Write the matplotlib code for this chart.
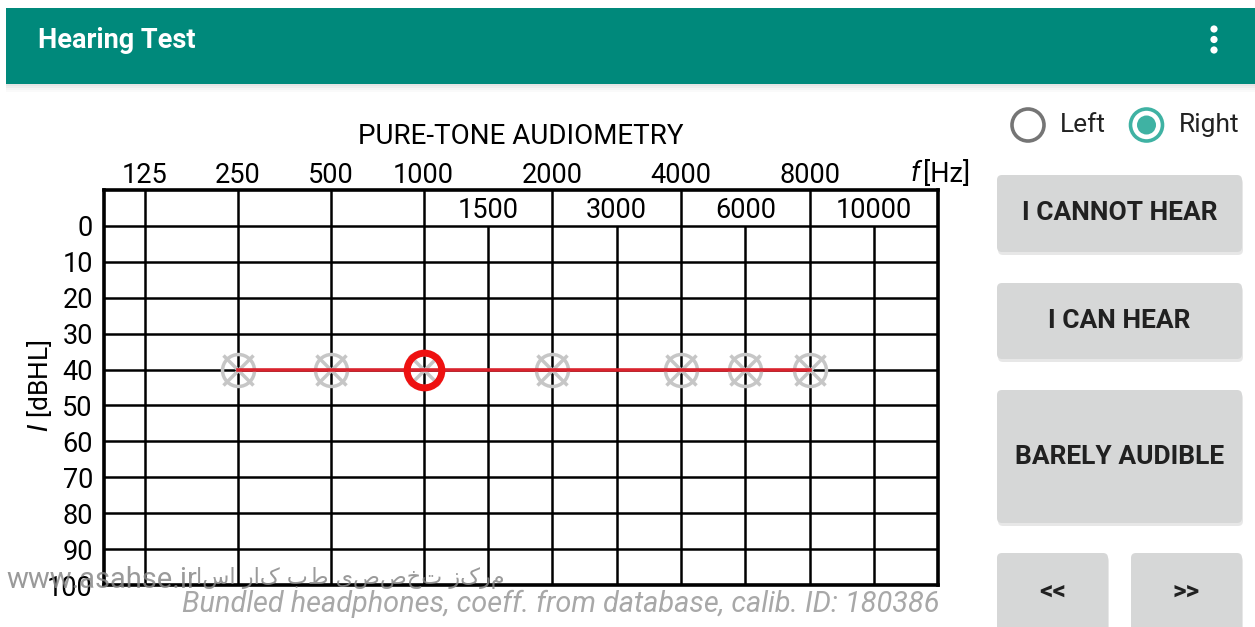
import numpy as np
import matplotlib
matplotlib.use("Agg")
import matplotlib.pyplot as plt
from matplotlib.patches import FancyBboxPatch, Rectangle, Circle

# ---------------- data ----------------
grid_freqs = [125, 250, 500, 1000, 1500, 2000, 3000, 4000, 6000, 8000, 10000]
top_labels = [125, 250, 500, 1000, 2000, 4000, 8000]
header_labels = [1500, 3000, 6000, 10000]
levels_db = [0, 10, 20, 30, 40, 50, 60, 70, 80, 90, 100]
tested_freqs = [250, 500, 1000, 2000, 4000, 6000, 8000]
tested_levels = [40, 40, 40, 40, 40, 40, 40]
current_freq = [1000]
current_level = [40]

W, H = 1255, 627
fig = plt.figure(figsize=(W / 100, H / 100), dpi=100)
fig.patch.set_facecolor("white")

FONT = "Roboto"
plt.rcParams["font.family"] = [FONT, "DejaVu Sans"]

# --------- frequency scale of the audiogram (octave columns) ---------
LOW_OCT = 1.442
HIGH_F = [1000, 1500, 2000, 3000, 4000, 6000, 8000, 10000]


def fpos(f):
    f = np.asarray(f, float)
    low = np.log2(np.clip(f, 1, None) / 125.0) * LOW_OCT
    high = 3 * LOW_OCT + np.interp(f, HIGH_F, np.arange(len(HIGH_F)))
    return np.where(f <= 1000, low, high)


# ---------------- UI layer ----------------
ui = fig.add_axes([0, 0, 1, 1], zorder=0)
ui.set_xlim(0, W)
ui.set_ylim(H, 0)
ui.axis("off")

# app bar with shadow
for i, a in enumerate([0.10, 0.07, 0.04, 0.02]):
    ui.add_patch(Rectangle((6, 84 + i * 2), W, 2, color="black", alpha=a, lw=0))
ui.add_patch(Rectangle((6, 8), W, 76, color="#00897b", lw=0))
ui.text(38, 40, "Hearing Test", color="white", fontsize=19.5, fontweight="bold",
        va="center", ha="left")
for yy in [29, 39.5, 50]:
    ui.add_patch(Circle((1214, yy), 3.6, color="white", lw=0))

# radio buttons
ui.add_patch(Circle((1028, 125), 16, fill=False, ec="#757575", lw=2.6))
ui.text(1060, 125, "Left", fontsize=19, va="center", ha="left", color="#222222")
ui.add_patch(Circle((1146.5, 125), 16, fill=False, ec="#3fb2a3", lw=2.6))
ui.add_patch(Circle((1146.5, 125), 9.5, color="#3fb2a3", lw=0))
ui.text(1179, 125, "Right", fontsize=19, va="center", ha="left", color="#222222")

# buttons
buttons = [
    (997, 175, 245, 77, "I CANNOT HEAR"),
    (997, 283, 245, 76, "I CAN HEAR"),
    (997, 390, 245, 133, "BARELY AUDIBLE"),
    (997, 553, 111, 90, "<<"),
    (1131, 553, 111, 90, ">>"),
]
for x0, y0, bw, bh, lab in buttons:
    ui.add_patch(FancyBboxPatch((x0 + 1, y0 + 3), bw, bh,
                                boxstyle="round,pad=0,rounding_size=5",
                                fc="#bdbdbd", ec="none", alpha=0.35))
    ui.add_patch(FancyBboxPatch((x0, y0), bw, bh,
                                boxstyle="round,pad=0,rounding_size=5",
                                fc="#d6d7d7", ec="none"))
    cy = y0 + bh / 2 if lab not in ("<<", ">>") else 592
    ui.text(x0 + bw / 2, cy, lab, fontsize=19, fontweight="bold",
            ha="center", va="center", color="#212121")

# ---------------- audiogram ----------------
L, R, T, B = 104, 938, 190, 585
ax = fig.add_axes([L / W, 1 - B / H, (R - L) / W, (B - T) / H], zorder=1)
ax.set_facecolor("white")
xmin = fpos(125) - 0.636
xmax = fpos(10000) + 0.99
ax.set_xlim(xmin, xmax)
ax.set_ylim(100, -10)

grid_kw = dict(color="black", lw=1.8, zorder=1)
for lv in levels_db[:-1]:
    ax.axhline(lv, **grid_kw)
for f in grid_freqs:
    top = -10 if f in top_labels else 0
    ax.plot([fpos(f), fpos(f)], [top, 100], solid_capstyle="butt", **grid_kw)
for s in ax.spines.values():
    s.set_linewidth(2.6)
    s.set_color("black")
    s.set_zorder(5)

# top frequency labels
ax.set_xticks(fpos(top_labels))
ax.set_xticklabels([str(f) for f in top_labels])
ax.xaxis.tick_top()
ax.tick_params(axis="x", length=0, pad=0.5, labelsize=19.5)
# header row labels
for f in header_labels:
    ax.text(fpos(f), -4.3, str(f), ha="center", va="center", fontsize=19.5)
# y labels
ax.set_yticks(levels_db)
ax.set_yticklabels([str(v) for v in levels_db])
ax.tick_params(axis="y", length=0, pad=8, labelsize=19.5)

ax.set_title("PURE-TONE AUDIOMETRY", fontsize=20, pad=33)
fig.text(970 / W, 1 - 174 / H, "[Hz]", fontsize=19.5, ha="right", va="center")
fig.text(920 / W, 1 - 174 / H, "f", fontsize=19.5, style="italic", ha="right",
         va="center")

fig.text(40 / W, 1 - 386 / H, "$\\mathit{I}$ [dBHL]", rotation=90, fontsize=19,
         ha="center", va="center")

# measured points (gray crossed circles)
xs = fpos(tested_freqs)
ax.plot(xs, tested_levels, ls="none", marker="o", ms=23, mfc="none",
        mec="#c6c6c6", mew=2.5, zorder=3, clip_on=False)
ax.plot(xs, tested_levels, ls="none", marker="x", ms=22, mec="#c6c6c6",
        mew=2.5, zorder=3, clip_on=False)
ax.plot(xs, tested_levels, color="#d9232d", lw=2.6, zorder=4)
ax.plot(fpos(current_freq), current_level, ls="none", marker="o", ms=25,
        mfc="none", mec="#ee1111", mew=5, zorder=6)

# footer text
fig.text(940 / W, 1 - 604 / H,
         "Bundled headphones, coeff. from database, calib. ID: 180386",
         fontsize=20.8, style="italic", color="#a8a8a8", ha="right", va="center")
# watermark
fig.text(6 / W, 1 - 580 / H, "www.asahse.ir", fontsize=21, color="#888888",
         alpha=0.85, ha="left", va="center", zorder=10)
fig.text(505 / W, 1 - 578 / H, "مرکز تخصصی طب کار اسا"[::-1], fontsize=16,
         color="#888888", alpha=0.85, ha="right", va="center",
         family=["DejaVu Sans"], zorder=10)

fig.savefig("out.png", dpi=100)
